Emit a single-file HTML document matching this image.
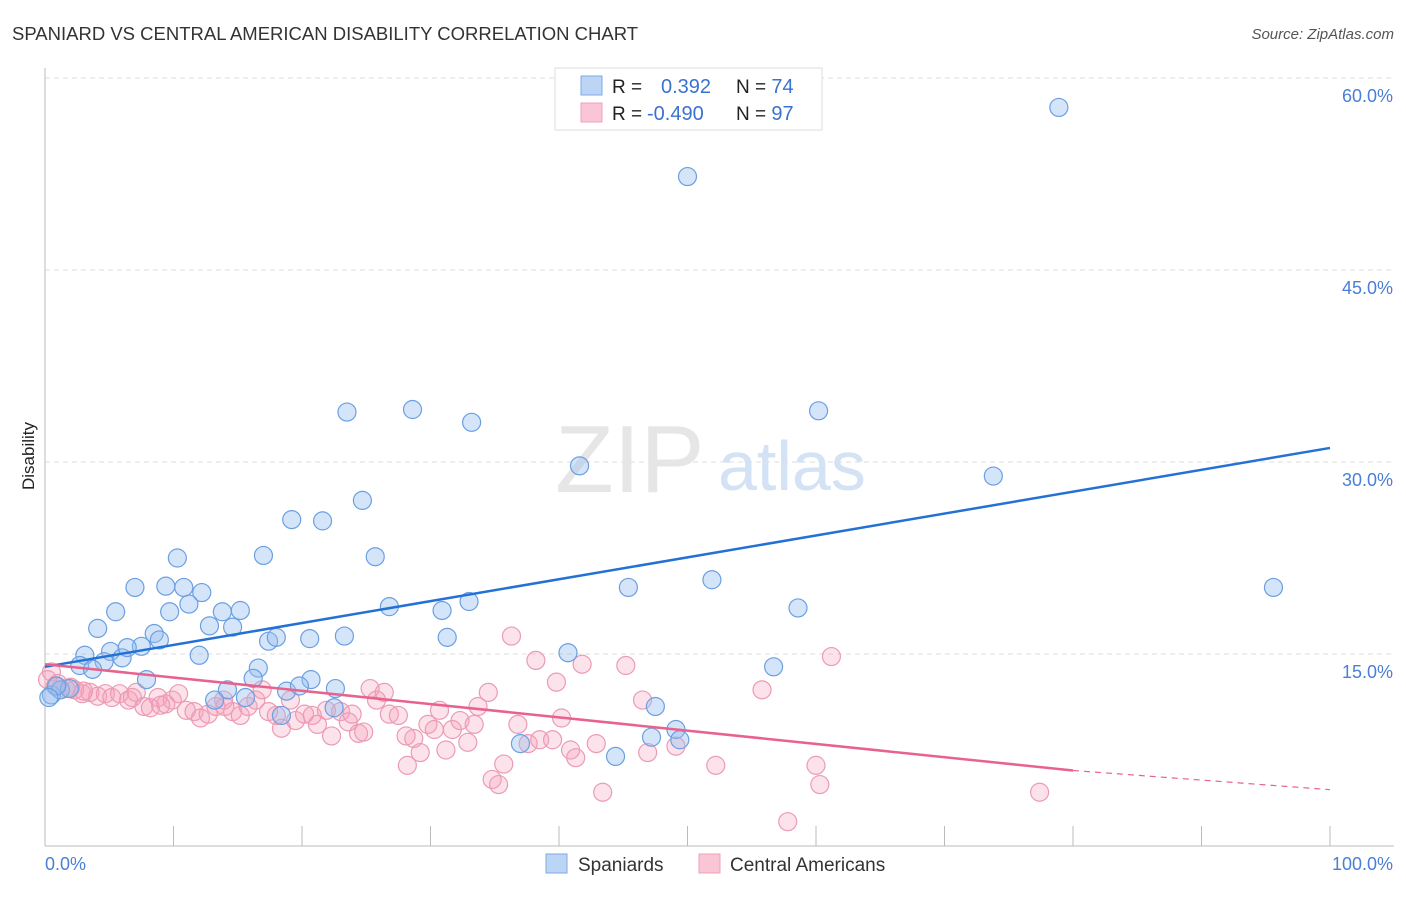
<!DOCTYPE html>
<html><head><meta charset="utf-8"><style>
body{margin:0;background:#fff;font-family:"Liberation Sans",sans-serif;}
svg text{font-family:"Liberation Sans",sans-serif;}
</style></head><body>
<svg id="chart" width="1406" height="892" xmlns="http://www.w3.org/2000/svg">
<text x="12" y="40" font-size="18.5" fill="#333">SPANIARD VS CENTRAL AMERICAN DISABILITY CORRELATION CHART</text>
<text x="1394" y="39" font-size="15" fill="#555" font-style="italic" text-anchor="end">Source: ZipAtlas.com</text>
<text x="34" y="456" font-size="17" fill="#222" transform="rotate(-90 34 456)" text-anchor="middle">Disability</text>
<g id="grid"></g>
<g id="axes"></g>
<text x="555" y="492" font-size="96" fill="#e6e6e6" font-family="Liberation Serif">ZIP</text>
<text x="718" y="490" font-size="70" fill="#d3e2f5">atlas</text>
<g id="pink"></g>
<g id="blue"></g>
<g id="lines"></g>
<g>
<rect x="555" y="68" width="267" height="62" fill="#fff" stroke="#ddd"/>
<rect x="581" y="76" width="21" height="19" fill="#bcd5f5" stroke="#7ea9e5"/>
<rect x="581" y="103" width="21" height="19" fill="#fac6d5" stroke="#eea0b8"/>
<text x="612" y="93" font-size="19" fill="#222">R = <tspan fill="#3a72d0" x="661" font-size="20">0.392</tspan></text>
<text x="736" y="93" font-size="19" fill="#222">N = <tspan fill="#3a72d0" font-size="20">74</tspan></text>
<text x="612" y="120" font-size="19" fill="#222">R = <tspan fill="#3a72d0" x="647" font-size="20">-0.490</tspan></text>
<text x="736" y="120" font-size="19" fill="#222">N = <tspan fill="#3a72d0" font-size="20">97</tspan></text>
</g>
<g>
<rect x="546" y="854" width="21" height="19" fill="#bcd5f5" stroke="#7ea9e5"/>
<text x="578" y="871" font-size="19" fill="#333">Spaniards</text>
<rect x="699" y="854" width="21" height="19" fill="#fac6d5" stroke="#eea0b8"/>
<text x="730" y="871" font-size="19" fill="#333">Central Americans</text>
</g>
</svg>
<script>
const yTicks=[15,30,45,60];
const yTickLabels=["15.0%","30.0%","45.0%","60.0%"];
const xTickVals=[0,10,20,30,40,50,60,70,80,90,100];
const blueX=[78.9,50.0,23.5,28.6,33.2,60.2,41.6,73.8,24.7,19.2,21.6,10.3,17.0,25.7,7.0,9.4,10.8,45.4,51.9,95.6,12.2,11.2,26.8,30.9,33.0,58.6,5.5,9.7,13.8,15.2,12.8,14.6,4.1,8.5,8.9,7.5,17.4,18.0,20.6,23.3,31.3,3.1,5.1,6.0,4.6,6.4,12.0,40.7,56.7,2.7,3.7,16.6,7.9,16.2,20.7,18.8,19.8,22.6,14.2,13.2,15.6,0.5,1.2,1.9,0.9,18.4,22.5,47.5,49.1,49.4,47.2,37.0,44.4,0.3];
const blueY=[57.7,52.3,33.9,34.1,33.1,34.0,29.7,28.9,27.0,25.5,25.4,22.5,22.7,22.6,20.2,20.3,20.2,20.2,20.8,20.2,19.8,18.9,18.7,18.4,19.1,18.6,18.3,18.3,18.3,18.4,17.2,17.1,17.0,16.6,16.1,15.6,16.0,16.3,16.2,16.4,16.3,14.9,15.2,14.7,14.4,15.5,14.9,15.1,14.0,14.1,13.8,13.9,13.0,13.1,13.0,12.1,12.5,12.3,12.2,11.4,11.6,11.8,12.2,12.3,12.5,10.2,10.8,10.9,9.1,8.3,8.5,8.0,7.0,11.6];
const pinkX=[0.5,0.2,1.0,1.6,2.3,2.9,3.5,4.1,4.7,5.2,5.8,6.5,7.1,7.7,8.2,8.8,9.4,9.9,10.4,11.0,11.6,12.1,12.7,13.3,13.9,14.6,15.2,15.8,16.4,16.9,17.4,18.0,18.4,19.1,19.5,20.2,20.8,21.2,21.9,22.3,23.0,23.6,23.9,24.4,24.8,25.3,25.8,26.4,26.8,27.5,28.1,28.2,28.7,29.2,29.8,30.3,30.7,31.2,31.7,32.3,32.9,33.4,33.7,34.5,34.8,35.3,35.7,36.3,36.8,37.6,38.2,38.5,39.5,39.8,40.2,40.9,41.3,41.8,42.9,43.4,45.2,46.5,46.9,49.1,52.2,55.8,57.8,60.0,60.3,61.2,77.4,0.8,2.0,3.0,6.8,9.0,14.0];
const pinkY=[13.6,13.0,12.7,12.3,12.2,11.9,12.0,11.7,11.9,11.6,11.9,11.4,12.0,10.9,10.8,11.6,11.1,11.4,11.9,10.6,10.5,10.0,10.3,10.9,11.4,10.5,10.2,10.9,11.4,12.2,10.5,10.2,9.2,11.4,9.8,10.3,10.2,9.5,10.6,8.6,10.5,9.7,10.3,8.8,8.9,12.3,11.4,12.0,10.3,10.2,8.6,6.3,8.4,7.3,9.5,9.1,10.6,7.5,9.1,9.8,8.1,9.5,10.9,12.0,5.2,4.8,6.4,16.4,9.5,8.0,14.5,8.3,8.3,12.8,10.0,7.5,6.9,14.2,8.0,4.2,14.1,11.4,7.3,7.8,6.3,12.2,1.9,6.3,4.8,14.8,4.2,12.5,12.4,12.1,11.6,11.0,10.9];
const blueTrendX=[0,100], blueTrendY=[14.0,31.1];
const pinkTrendX=[0,80,100], pinkTrendY=[14.2,5.9,4.4];

const X0=45,X1=1330,Y0=846,PXPERPCT=12.8;
const sx=v=>X0+(X1-X0)*v/100;
const sy=v=>Y0-v*PXPERPCT;
const NS="http://www.w3.org/2000/svg";
function mk(tag,attrs,parent){const e=document.createElementNS(NS,tag);for(const k in attrs)e.setAttribute(k,attrs[k]);parent.appendChild(e);return e;}
const grid=document.getElementById('grid'),axes=document.getElementById('axes'),svg=document.getElementById('chart');
yTicks.forEach((t,i)=>{
 const g=mk('line',{x1:45,x2:1394,y1:sy(t),y2:sy(t),stroke:'#ddd','stroke-dasharray':'5,4'},grid);
 
 
 const tx=mk('text',{x:1393,y:sy(t)+24,'font-size':18,fill:'#4a7fd6','text-anchor':'end'},svg);
 tx.textContent=yTickLabels[i];
 
 
});
const al=mk('line',{x1:45,x2:45,y1:68,y2:846,stroke:'#bbb'},axes);


const bl=mk('line',{x1:45,x2:1394,y1:846,y2:846,stroke:'#bbb'},axes);


xTickVals.forEach(v=>{
 const t=mk('line',{x1:sx(v),x2:sx(v),y1:826,y2:846,stroke:'#bbb'},axes);
 
 
});
const xl0=mk('text',{x:45,y:870,'font-size':18,fill:'#4a7fd6'},svg);xl0.textContent='0.0%';


const xl1=mk('text',{x:1393,y:870,'font-size':18,fill:'#4a7fd6','text-anchor':'end'},svg);xl1.textContent='100.0%';


const pg=document.getElementById('pink'),bg=document.getElementById('blue');
pinkX.forEach((v,i)=>{
 const c=mk('circle',{cx:sx(v),cy:sy(pinkY[i]),r:9,fill:'rgba(245,160,185,0.3)',stroke:'#ec9bb4','stroke-width':1.2},pg);
 
 
});
blueX.forEach((v,i)=>{
 const c=mk('circle',{cx:sx(v),cy:sy(blueY[i]),r:9,fill:'rgba(150,190,240,0.4)',stroke:'#6b9fe2','stroke-width':1.2},bg);
 
 
});
const lg=document.getElementById('lines');
const b=mk('line',{x1:sx(blueTrendX[0]),y1:sy(blueTrendY[0]),x2:sx(blueTrendX[1]),y2:sy(blueTrendY[1]),stroke:'#2471d6','stroke-width':2.5},lg);


const p=mk('line',{x1:sx(pinkTrendX[0]),y1:sy(pinkTrendY[0]),x2:sx(pinkTrendX[1]),y2:sy(pinkTrendY[1]),stroke:'#e8628e','stroke-width':2.5},lg);


const pd=mk('line',{x1:sx(pinkTrendX[1]),y1:sy(pinkTrendY[1]),x2:sx(pinkTrendX[2]),y2:sy(pinkTrendY[2]),stroke:'#e8628e','stroke-width':1.2,'stroke-dasharray':'6,5'},lg);


</script>
</body></html>
